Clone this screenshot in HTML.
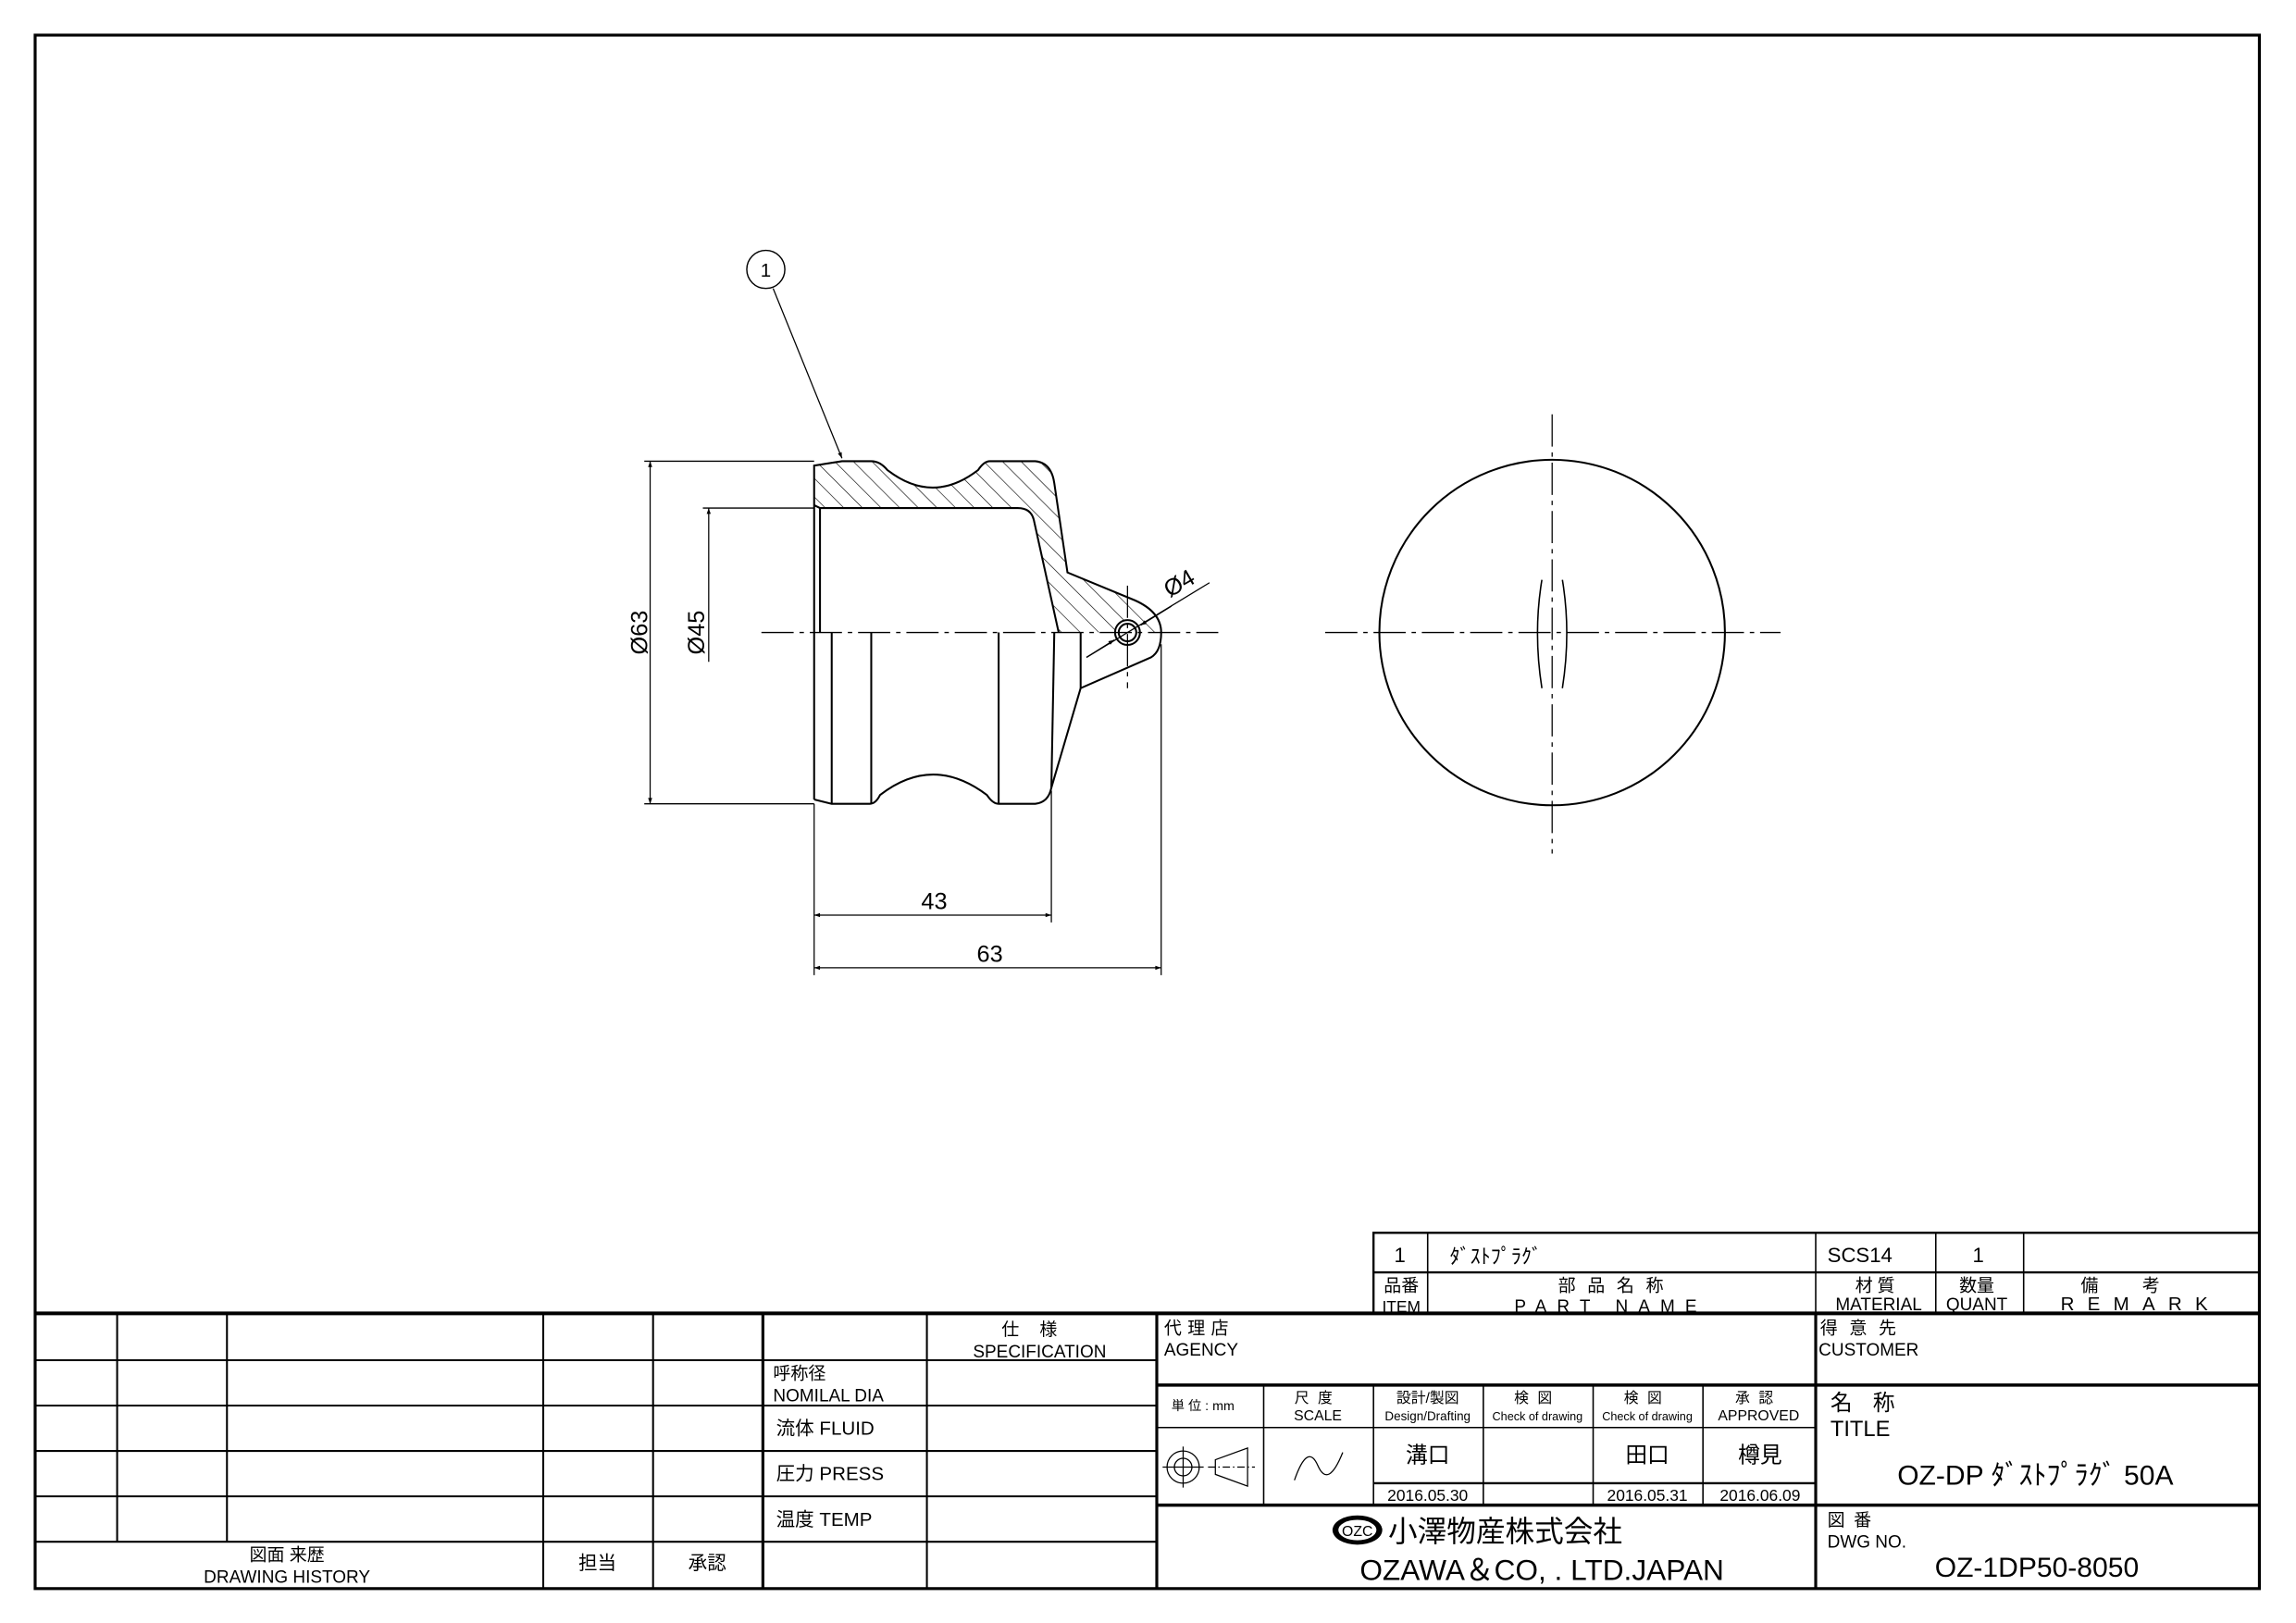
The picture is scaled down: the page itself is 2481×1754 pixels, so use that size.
<!DOCTYPE html>
<html><head><meta charset="utf-8"><style>
html,body{margin:0;padding:0;background:#fff}
svg{display:block}
text{font-family:"Liberation Sans","Noto Sans CJK JP",sans-serif;fill:#000}
</style></head><body>
<svg width="2481" height="1754" viewBox="0 0 1568 1108.5" preserveAspectRatio="none" xmlns="http://www.w3.org/2000/svg">
<defs>
<pattern id="h" patternUnits="userSpaceOnUse" width="9" height="9" patternTransform="rotate(-45)">
<line x1="0" y1="0" x2="0" y2="9" stroke="#000" stroke-width="0.8"/>
</pattern>
<marker id="a" viewBox="0 0 10 10" refX="10" refY="5" markerWidth="9" markerHeight="4" orient="auto-start-reverse" markerUnits="userSpaceOnUse"><path d="M0,1.5 L10,5 L0,8.5z" fill="#000"/></marker>
</defs>
<rect width="1568" height="1109" fill="#fff"/>
<rect x="24" y="24" width="1519" height="1061" fill="none" stroke="#000" stroke-width="2"/>

<path d="M556,318 L575,315 L595,315 Q601,315 606,321 Q637,345 668,321 Q672,315 676,315 L707,315 Q718,316 720,330 L729,391 L775,410 Q793,418 793,432 L723,432 L706,355 Q704,347 695,347 L560,347 L556,345 Z" fill="url(#h)" stroke="none"/>
<g fill="none" stroke="#000" stroke-width="1.3">
<path d="M556,546 L556,318 L575,315 L595,315 Q601,315 606,321 Q637,345 668,321 Q672,315 676,315 L707,315 Q718,316 720,330 L729,391 L775,410 Q793,418 793,432 Q793,445 786,449 L738,470 L718,538 Q716,548 707,549 L682,549 Q678,549 674,543 Q637,515 601,543 Q598,549 594,549 L568,549 L556,546"/>
<path d="M556,345 L560,347 L695,347 Q704,347 706,355 L723,432"/>
<line x1="560" y1="347" x2="560" y2="432"/>
<line x1="568" y1="432" x2="568" y2="549"/>
<line x1="595" y1="432" x2="595" y2="549"/>
<line x1="682" y1="432" x2="682" y2="549"/>
<line x1="720" y1="432" x2="718" y2="538"/>
<line x1="738" y1="432" x2="738" y2="470"/>
<circle cx="770" cy="432" r="8.5" fill="#fff"/>
<circle cx="770" cy="432" r="6"/>
</g>
<g stroke="#000" stroke-width="0.8" stroke-dasharray="22,4,3,4" fill="none">
<line x1="520" y1="432" x2="832" y2="432"/>
<line x1="770" y1="400" x2="770" y2="470"/>
<line x1="905" y1="432" x2="1216" y2="432"/>
<line x1="1060" y1="283" x2="1060" y2="583"/>
</g>
<circle cx="523" cy="184" r="13" fill="none" stroke="#000" stroke-width="0.9"/>
<text x="523" y="189" font-size="13" text-anchor="middle">1</text>
<line x1="528" y1="197" x2="575" y2="313" stroke="#000" stroke-width="0.8" marker-end="url(#a)"/>
<g stroke="#000" stroke-width="0.8" fill="none">
<line x1="440" y1="315" x2="556" y2="315"/>
<line x1="440" y1="549" x2="556" y2="549"/>
<line x1="480" y1="347" x2="556" y2="347"/>
<line x1="444" y1="315" x2="444" y2="549" marker-start="url(#a)" marker-end="url(#a)"/>
<line x1="484" y1="452" x2="484" y2="347" marker-end="url(#a)"/>
<line x1="556" y1="549" x2="556" y2="666"/>
<line x1="718" y1="540" x2="718" y2="630"/>
<line x1="793" y1="440" x2="793" y2="666"/>
<line x1="556" y1="625" x2="718" y2="625" marker-start="url(#a)" marker-end="url(#a)"/>
<line x1="556" y1="661" x2="793" y2="661" marker-start="url(#a)" marker-end="url(#a)"/>
<line x1="742" y1="449" x2="826" y2="398"/>
<line x1="742" y1="449" x2="761" y2="437" marker-end="url(#a)"/>
<line x1="800" y1="414" x2="779" y2="427" marker-end="url(#a)"/>
</g>
<text x="0" y="0" font-size="16" text-anchor="middle" transform="translate(442,432) rotate(-90)">Ø63</text>
<text x="0" y="0" font-size="16" text-anchor="middle" transform="translate(481,432) rotate(-90)">Ø45</text>
<text x="638" y="621" font-size="16" text-anchor="middle">43</text>
<text x="676" y="657" font-size="16" text-anchor="middle">63</text>
<text x="0" y="0" font-size="16" text-anchor="middle" transform="translate(808,403) rotate(-30)">Ø4</text>

<circle cx="1060" cy="432" r="118" fill="none" stroke="#000" stroke-width="1.3"/>
<path d="M1053,396 Q1047,432 1053,470" fill="none" stroke="#000" stroke-width="1"/>
<path d="M1067,396 Q1073,432 1067,470" fill="none" stroke="#000" stroke-width="1"/>

<g stroke="#000" fill="none">
<line x1="24" y1="897" x2="1543" y2="897" stroke-width="2.5"/>
<rect x="938" y="842" width="605" height="55" stroke-width="1.5"/>
<line x1="938" y1="869" x2="1543" y2="869" stroke-width="1.5"/>
<line x1="975" y1="842" x2="975" y2="897" stroke-width="1"/>
<line x1="1240" y1="842" x2="1240" y2="897" stroke-width="1"/>
<line x1="1322" y1="842" x2="1322" y2="897" stroke-width="1"/>
<line x1="1382" y1="842" x2="1382" y2="897" stroke-width="1"/>
<g stroke-width="1.3">
<line x1="24" y1="929" x2="790" y2="929"/>
<line x1="24" y1="960" x2="790" y2="960"/>
<line x1="24" y1="991" x2="790" y2="991"/>
<line x1="24" y1="1022" x2="790" y2="1022"/>
<line x1="24" y1="1053" x2="790" y2="1053"/>
<line x1="80" y1="897" x2="80" y2="1053"/>
<line x1="155" y1="897" x2="155" y2="1053"/>
<line x1="371" y1="897" x2="371" y2="1085"/>
<line x1="446" y1="897" x2="446" y2="1085"/>
<line x1="633" y1="897" x2="633" y2="1085"/>
</g>
<line x1="521" y1="897" x2="521" y2="1085" stroke-width="2"/>
<line x1="790" y1="897" x2="790" y2="1085" stroke-width="2"/>
<line x1="1240" y1="897" x2="1240" y2="1085" stroke-width="2"/>
<line x1="790" y1="946" x2="1543" y2="946" stroke-width="2.2"/>
<line x1="790" y1="1028" x2="1543" y2="1028" stroke-width="2.2"/>
<line x1="790" y1="975" x2="1240" y2="975" stroke-width="1"/>
<line x1="938" y1="1013" x2="1240" y2="1013" stroke-width="1.5"/>
<g stroke-width="1">
<line x1="863" y1="946" x2="863" y2="1028"/>
<line x1="938" y1="946" x2="938" y2="1028"/>
<line x1="1013" y1="946" x2="1013" y2="1028"/>
<line x1="1088" y1="946" x2="1088" y2="1028"/>
<line x1="1163" y1="946" x2="1163" y2="1028"/>
</g>
</g>
<text x="956" y="862" font-size="14" text-anchor="middle">1</text>
<text x="990" y="863" font-size="14">ﾀﾞｽﾄﾌﾟﾗｸﾞ</text>
<text x="1248" y="862" font-size="14">SCS14</text>
<text x="1351" y="862" font-size="14" text-anchor="middle">1</text>
<text x="957" y="882" font-size="12" text-anchor="middle">品番</text>
<text x="957" y="896" font-size="11" text-anchor="middle">ITEM</text>
<text x="1104" y="882" font-size="12" text-anchor="middle" letter-spacing="8">部品名称</text>
<text x="1100" y="896" font-size="12" text-anchor="middle" letter-spacing="7">PART NAME</text>
<text x="1282" y="882" font-size="12" text-anchor="middle" letter-spacing="3">材質</text>
<text x="1283" y="895" font-size="12" text-anchor="middle">MATERIAL</text>
<text x="1350" y="882" font-size="12" text-anchor="middle">数量</text>
<text x="1350" y="895" font-size="12" text-anchor="middle">QUANT</text>
<text x="1463" y="882" font-size="12" text-anchor="middle" letter-spacing="30">備考</text>
<text x="1462" y="895" font-size="13" text-anchor="middle" letter-spacing="9">REMARK</text>
<text x="710" y="912" font-size="12" text-anchor="middle" letter-spacing="14">仕様</text>
<text x="710" y="927" font-size="12" text-anchor="middle">SPECIFICATION</text>
<text x="528" y="942" font-size="12">呼称径</text>
<text x="528" y="957" font-size="12">NOMILAL  DIA</text>
<text x="530" y="980" font-size="13">流体  FLUID</text>
<text x="530" y="1011" font-size="13">圧力  PRESS</text>
<text x="530" y="1042" font-size="13">温度  TEMP</text>
<text x="196" y="1066" font-size="12" text-anchor="middle">図面  来歴</text>
<text x="196" y="1081" font-size="12" text-anchor="middle">DRAWING  HISTORY</text>
<text x="408" y="1072" font-size="13" text-anchor="middle">担当</text>
<text x="483" y="1072" font-size="13" text-anchor="middle">承認</text>
<text x="795" y="911" font-size="12" letter-spacing="4">代理店</text>
<text x="795" y="926" font-size="12">AGENCY</text>
<text x="1243" y="911" font-size="12" letter-spacing="8">得意先</text>
<text x="1242" y="926" font-size="12">CUSTOMER</text>
<text x="800" y="963" font-size="9">単 位 : mm</text>
<text x="900" y="958" font-size="10" text-anchor="middle" letter-spacing="6">尺度</text>
<text x="900" y="970" font-size="10" text-anchor="middle">SCALE</text>
<text x="975" y="958" font-size="10" text-anchor="middle">設計/製図</text>
<text x="975" y="970" font-size="8.5" text-anchor="middle">Design/Drafting</text>
<text x="1050" y="958" font-size="10" text-anchor="middle" letter-spacing="6">検図</text>
<text x="1050" y="970" font-size="8" text-anchor="middle">Check of drawing</text>
<text x="1125" y="958" font-size="10" text-anchor="middle" letter-spacing="6">検図</text>
<text x="1125" y="970" font-size="8" text-anchor="middle">Check of drawing</text>
<text x="1201" y="958" font-size="10" text-anchor="middle" letter-spacing="6">承認</text>
<text x="1201" y="970" font-size="10" text-anchor="middle">APPROVED</text>
<text x="975" y="999" font-size="15" text-anchor="middle">溝口</text>
<text x="1125" y="999" font-size="15" text-anchor="middle">田口</text>
<text x="1202" y="999" font-size="15" text-anchor="middle">樽見</text>
<text x="975" y="1025" font-size="11" text-anchor="middle">2016.05.30</text>
<text x="1125" y="1025" font-size="11" text-anchor="middle">2016.05.31</text>
<text x="1202" y="1025" font-size="11" text-anchor="middle">2016.06.09</text>
<g fill="none" stroke="#000" stroke-width="0.8">
<circle cx="808" cy="1002" r="11"/><circle cx="808" cy="1002" r="6"/>
<line x1="794" y1="1002" x2="822" y2="1002"/><line x1="808" y1="988" x2="808" y2="1016"/>
<path d="M830,997 L852,989 L852,1015 L830,1007 Z"/>
<line x1="825" y1="1002" x2="857" y2="1002" stroke-dasharray="5,2,1,2"/>
<path d="M884,1011 Q893,985 900,1001 Q907,1017 917,992"/>
</g>
<text x="1250" y="963" font-size="15" letter-spacing="14">名称</text>
<text x="1250" y="981" font-size="15">TITLE</text>
<text x="1390" y="1014" font-size="19" text-anchor="middle">OZ-DP ﾀﾞｽﾄﾌﾟﾗｸﾞ  50A</text>
<text x="1248" y="1042" font-size="12" letter-spacing="6">図番</text>
<text x="1248" y="1057" font-size="12">DWG  NO.</text>
<text x="1391" y="1077" font-size="19" text-anchor="middle">OZ-1DP50-8050</text>
<ellipse cx="927" cy="1045" rx="17" ry="10" fill="#000"/>
<ellipse cx="927" cy="1045" rx="13" ry="7" fill="#fff"/>
<text x="927" y="1049" font-size="10" text-anchor="middle">OZC</text>
<text x="948" y="1053" font-size="20">小澤物産株式会社</text>
<text x="1053" y="1079" font-size="20" text-anchor="middle">OZAWA＆CO, . LTD.JAPAN</text>
</svg>
</body></html>
